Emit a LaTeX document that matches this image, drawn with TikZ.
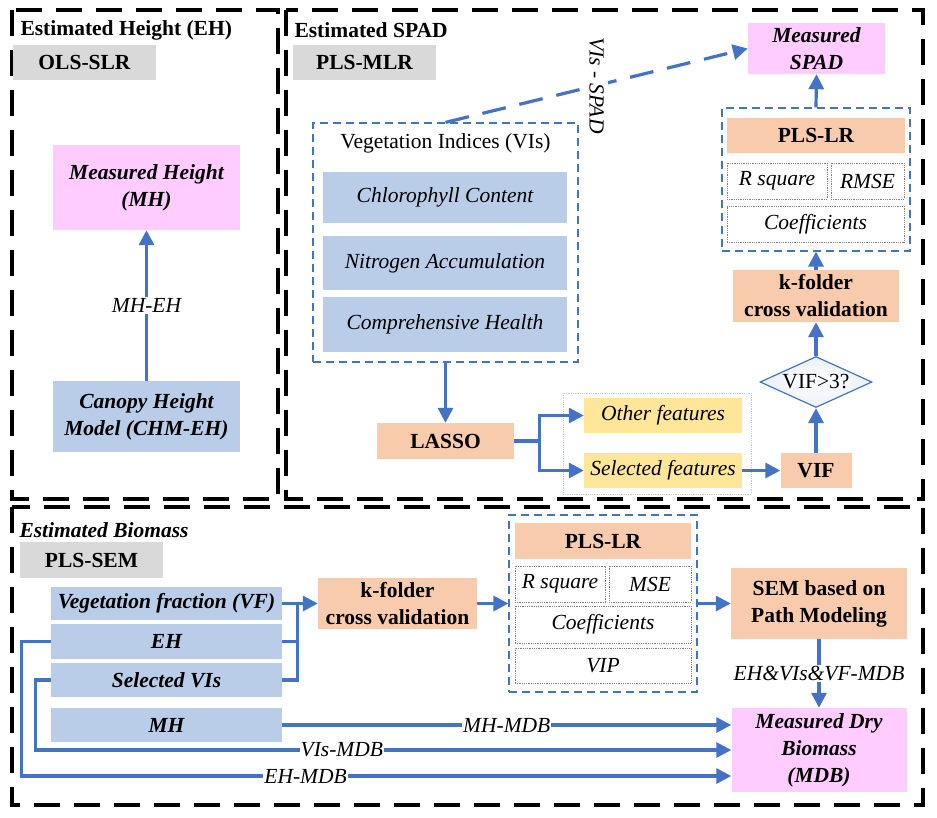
\documentclass[tikz,border=0pt]{standalone}
\usepackage{fontspec}
\setmainfont{Liberation Serif}
\usetikzlibrary{arrows.meta,calc,positioning,shapes.geometric}
\definecolor{boxpink}{RGB}{255,204,255}
\definecolor{boxblue}{RGB}{186,205,232}
\definecolor{boxorange}{RGB}{248,203,173}
\definecolor{boxgray}{RGB}{217,217,217}
\definecolor{boxyellow}{RGB}{255,230,153}
\definecolor{linkblue}{RGB}{68,114,196}
\newcommand{\fsize}{\fontsize{21.5}{27}\selectfont}
\tikzset{
 cell/.style 2 args={minimum width=#1pt,minimum height=#2pt,inner sep=0pt,align=center},
 panel/.style={draw=black,line width=3.5pt,dash pattern=on 26pt off 14pt},
 method/.style={fill=boxgray,font=\fsize\bfseries},
 meas/.style={fill=boxpink,font=\fsize\bfseries\itshape},
 feat/.style={fill=boxblue,font=\fsize\bfseries\itshape},
 vind/.style={fill=boxblue,font=\fsize\itshape},
 proc/.style={fill=boxorange,font=\fsize\bfseries},
 pick/.style={fill=boxyellow,font=\fsize\itshape},
 grp/.style={draw=linkblue,line width=1.2pt,dash pattern=on 8pt off 5pt},
 met/.style={draw=gray,densely dotted,line width=0.8pt,font=\fsize\itshape},
 link/.style={draw=linkblue,line width=3.2pt,-{Triangle[length=15pt,width=15pt]}},
 wire/.style={draw=linkblue,line width=3.2pt},
 lbl/.style={fill=white,inner sep=1pt,font=\fsize\itshape},
}
\begin{document}
\begin{tikzpicture}[x=1pt,y=-1pt,line join=miter]
 \useasboundingbox (0,0) rectangle (937,817);
 % Panels.
 \draw[panel] (12,10) rectangle (278,499);
 \draw[panel] (286,10) rectangle (923,499);
 \draw[panel] (12,507) rectangle (923,805);
 % Estimated Height.
 \node[anchor=west,font=\fsize\bfseries] (ehhead) at (17,30) {Estimated Height (EH)};
 \node[method,cell={143}{35}] (olsslr) at (84.5,62.5) {OLS-SLR};
 \node[meas,cell={187}{85}] (mh) at (146.5,187.5) {Measured Height\\(MH)};
 \node[feat,cell={187}{71}] (chm) at (146.5,416.5) {Canopy Height\\Model (CHM-EH)};
 \draw[link] (chm.north) -- (mh.south) node[midway,lbl] {MH-EH};
 % Estimated SPAD.
 \node[anchor=west,font=\fsize\bfseries] (spadhead) at (291,30) {Estimated SPAD};
 \node[method,cell={143}{35}] (plsmlr) at (364.5,62.5) {PLS-MLR};
 \node[grp,cell={265}{239}] (vis) at (445.5,242.5) {};
 \node[font=\fsize] (vistitle) at (445.5,143) {Vegetation Indices (VIs)};
 \node[vind,cell={244}{51}] (chl) at (445,197.5) {Chlorophyll Content};
 \node[vind,cell={244}{54}] (nit) at (445,263) {Nitrogen Accumulation};
 \node[vind,cell={244}{55}] (com) at (445,324.5) {Comprehensive Health};
 \node[meas,cell={137}{51}] (spad) at (816.5,48.5) {Measured\\SPAD};
 \node[grp,cell={188}{143}] (plsbox) at (816,179.5) {};
 \node[proc,cell={178}{35}] (plslr) at (816,135.5) {PLS-LR};
 \node[met,cell={100}{36}] (rsq) at (777,181) {R square};
 \node[met,cell={73}{36}] (rmse) at (867.5,181) {RMSE};
 \node[met,cell={177}{36}] (coef) at (815.5,224) {Coefficients};
 \node[proc,cell={166}{52}] (kfold) at (816,296) {k-folder\\cross validation};
 \node[diamond,draw=linkblue,line width=1.2pt,shading=radial,inner color=white,
  outer color=boxblue!30,shape aspect=2.2,inner sep=0pt,minimum width=112pt,
  minimum height=51pt,font=\fsize] (vifq) at (816,382) {VIF>3?};
 \node[proc,cell={71}{35}] (vif) at (816,470.5) {VIF};
 \node[proc,cell={137}{36}] (lasso) at (445.5,441) {LASSO};
 \node[draw=boxblue,densely dotted,line width=0.8pt,cell={188}{101}] (feats) at (657,443.5) {};
 \node[pick,cell={158}{35}] (other) at (663,415.5) {Other features};
 \node[pick,cell={158}{35}] (selfeat) at (663,470.5) {Selected features};
 \draw[link,dash pattern=on 24pt off 14pt] (vis.north) -- (spad.west)
  node[midway,lbl,rotate=-90,inner sep=4pt] {VIs - SPAD};
 \draw[link] (vis.south) -- (lasso.north);
 \coordinate (fork) at ($(lasso.east)+(25,0)$);
 \draw[wire] (lasso.east) -- (fork);
 \draw[link] (fork) |- (other.west);
 \draw[link] (fork) |- (selfeat.west);
 \draw[link] (selfeat.east) -- (vif.west);
 \draw[link] (vif.north) -- (vifq.south);
 \draw[link] (vifq.north) -- (kfold.south);
 \draw[link] (kfold.north) -- (plsbox.south);
 \draw[link] (plsbox.north) -- (spad.south);
 % Estimated Biomass.
 \node[anchor=west,font=\fsize\bfseries\itshape] (bmhead) at (16,530) {Estimated Biomass};
 \node[method,cell={143}{36}] (plssem) at (91.5,560) {PLS-SEM};
 \node[feat,cell={231}{33}] (vf) at (166.5,603.5) {Vegetation fraction (VF)};
 \node[feat,cell={231}{35}] (eh) at (166.5,641.5) {EH};
 \node[feat,cell={231}{34}] (svis) at (166.5,680) {Selected VIs};
 \node[feat,cell={231}{34}] (mhb) at (166.5,725) {MH};
 \node[proc,cell={159}{51}] (kfoldb) at (397.5,603.5) {k-folder\\cross validation};
 \node[grp,cell={188}{177}] (plsboxb) at (603,603.5) {};
 \node[proc,cell={176}{36}] (plslrb) at (603,541) {PLS-LR};
 \node[met,cell={90}{36}] (rsqb) at (560,584) {R square};
 \node[met,cell={82}{36}] (mseb) at (650,584) {MSE};
 \node[met,cell={176}{37}] (coefb) at (603,624.5) {Coefficients};
 \node[met,cell={176}{35}] (vip) at (603,665.5) {VIP};
 \node[proc,cell={176}{71}] (sem) at (819,603.5) {SEM based on\\Path Modeling};
 \node[meas,cell={175}{84}] (mdb) at (819,750) {Measured Dry\\Biomass\\(MDB)};
 \coordinate (join) at ($(vf.east)+(15,0)$);
 \draw[wire] (eh.east) -| (join);
 \draw[wire] (svis.east) -| (join);
 \draw[link] (vf.east) -- (kfoldb.west);
 \draw[link] (kfoldb.east) -- (plsboxb.west);
 \draw[link] (plsboxb.east) -- (sem.west);
 \draw[link] (sem.south) -- (mdb.north) node[midway,lbl] {EH\&VIs\&VF-MDB};
 \draw[link] (mhb.east) -- ([yshift=25pt]mdb.west) node[midway,lbl] {MH-MDB};
 \draw[link] (svis.west) -- ++(-15,0) |- (mdb.west) node[pos=0.72,lbl] {VIs-MDB};
 \draw[link] (eh.west) -- ++(-29,0) |- ([yshift=-26pt]mdb.west) node[pos=0.7,lbl] {EH-MDB};
\end{tikzpicture}
\end{document}
